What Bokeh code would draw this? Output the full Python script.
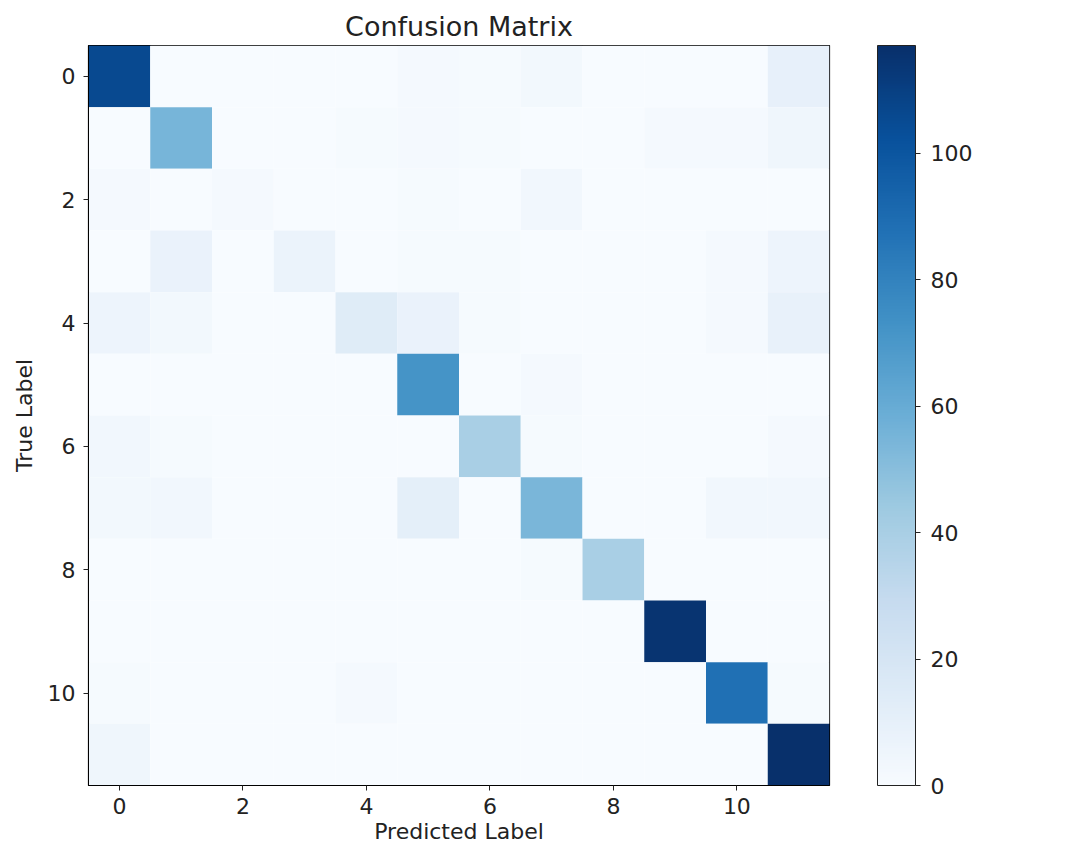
from bokeh.plotting import figure
from bokeh.models import (ColumnDataSource, LinearColorMapper, ColorBar, FixedTicker,
                          Range1d)
from bokeh.palettes import Blues256
from bokeh.embed import file_html
from bokeh.resources import INLINE

# ---- data: rows = true label, columns = predicted label ----
class_ids = list(range(12))
row_0 = [106, 0, 0, 0, 0, 2, 1, 3, 0, 0, 0, 10]
row_1 = [0, 55, 0, 0, 1, 2, 1, 0, 0, 2, 2, 5]
row_2 = [2, 0, 2, 0, 0, 1, 0, 4, 0, 0, 0, 0]
row_3 = [0, 8, 0, 7, 0, 1, 1, 0, 0, 0, 2, 6]
row_4 = [6, 3, 0, 0, 14, 8, 1, 0, 0, 0, 2, 9]
row_5 = [0, 0, 0, 0, 0, 72, 0, 2, 0, 0, 0, 0]
row_6 = [4, 1, 0, 0, 0, 0, 40, 1, 0, 0, 0, 2]
row_7 = [3, 4, 0, 0, 0, 11, 0, 54, 0, 0, 4, 4]
row_8 = [0, 0, 0, 0, 0, 0, 0, 1, 40, 0, 0, 0]
row_9 = [0, 0, 0, 0, 0, 0, 0, 0, 0, 115, 0, 0]
row_10 = [1, 0, 0, 0, 2, 0, 0, 0, 0, 0, 88, 1]
row_11 = [5, 0, 0, 0, 0, 0, 0, 0, 0, 0, 0, 117]
axis_ticks = [0, 2, 4, 6, 8, 10]
colorbar_ticks = [0, 20, 40, 60, 80, 100]

rows = [row_0, row_1, row_2, row_3, row_4, row_5, row_6, row_7, row_8, row_9, row_10, row_11]
xs, ys, vals = [], [], []
for t, r in zip(class_ids, rows):
    for pcls, v in zip(class_ids, r):
        xs.append(pcls)
        ys.append(t)
        vals.append(v)
src = ColumnDataSource(dict(x=xs, y=ys, v=vals))

vmax = max(max(r) for r in rows)
mapper = LinearColorMapper(palette=list(Blues256[::-1]), low=0, high=vmax)

FONT = "DejaVu Sans"
INK = "#222222"

p = figure(width=1068, height=850, output_backend="svg", toolbar_location=None,
           x_range=Range1d(-0.5, 11.5), y_range=Range1d(11.5, -0.5),
           min_border_left=88, min_border_top=45, min_border_bottom=65,
           min_border_right=239, title="Confusion Matrix")
p.rect(x="x", y="y", width=1, height=1, source=src,
       fill_color={"field": "v", "transform": mapper}, line_color=None)

p.grid.visible = False
p.outline_line_color = "black"
p.outline_line_width = 1.2
p.background_fill_color = "white"

p.title.align = "center"
p.title.text_font = FONT
p.title.text_font_size = "27px"
p.title.text_font_style = "normal"
p.title.text_color = INK
p.title.standoff = 7

for ax in (p.xaxis[0], p.yaxis[0]):
    ax.ticker = FixedTicker(ticks=axis_ticks)
    ax.minor_tick_line_color = None
    ax.major_tick_in = 0
    ax.major_tick_out = 5
    ax.major_tick_line_color = INK
    ax.axis_line_color = "black"
    ax.major_label_text_font = FONT
    ax.major_label_text_font_size = "22px"
    ax.major_label_text_color = INK
    ax.axis_label_text_font = FONT
    ax.axis_label_text_font_size = "22px"
    ax.axis_label_text_font_style = "normal"
    ax.axis_label_text_color = INK

p.xaxis.axis_label = "Predicted Label"
p.xaxis.major_label_standoff = 7
p.xaxis.axis_label_standoff = 2
p.yaxis.axis_label = "True Label"
p.yaxis.major_label_standoff = 8
p.yaxis.axis_label_standoff = 8

cb = ColorBar(color_mapper=mapper, ticker=FixedTicker(ticks=colorbar_ticks),
              width=38, height=740, padding=0, margin=0, location=(48, 0),
              major_tick_in=0, major_tick_out=5, major_tick_line_color=INK,
              label_standoff=10, major_label_text_font=FONT,
              major_label_text_font_size="22px", major_label_text_color=INK,
              bar_line_color=INK, bar_line_width=1,
              border_line_color=None, background_fill_alpha=0)
p.add_layout(cb, "right")

open("out.html", "w").write(file_html(p, INLINE))
